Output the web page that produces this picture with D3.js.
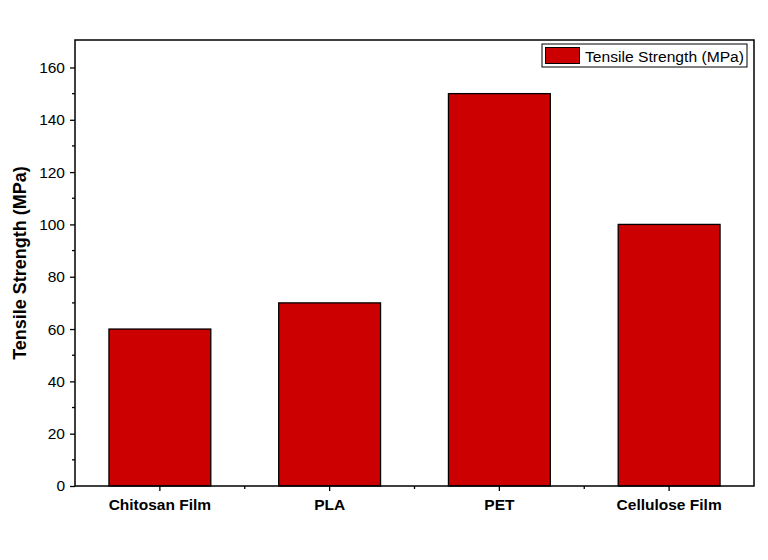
<!DOCTYPE html>
<html>
<head>
<meta charset="utf-8">
<script src="https://cdn.jsdelivr.net/npm/d3@7"></script>
<style>
  body { margin: 0; background: #fff; }
  text { font-family: "Liberation Sans", Arial, sans-serif; }
</style>
</head>
<body>
<svg id="chart" width="768" height="560"></svg>
<script>
// chart data
const materials = ["Chitosan Film", "PLA", "PET", "Cellulose Film"];
const strength = [60, 70, 150, 100];
const yTicks = [0, 20, 40, 60, 80, 100, 120, 140, 160];
const seriesName = "Tensile Strength (MPa)";

const svg = d3.select('#chart');
const plotL = 75, plotR = 754, plotT = 40, plotB = 486;

const x = d3.scaleBand().domain(materials).range([plotL, plotR]).paddingInner(0).paddingOuter(0);
const y = d3.scaleLinear().domain([0, 170.5]).range([plotB, plotT]);
const barW = x.bandwidth() * 0.6;

// bars
svg.append('g').selectAll('rect')
    .data(materials)
    .enter()
    .append('rect')
    .attr('x', d => x(d) + (x.bandwidth() - barW) / 2)
    .attr('y', (d, i) => y(strength[i]))
    .attr('width', barW)
    .attr('height', (d, i) => y(0) - y(strength[i]))
    .attr('fill', '#cc0000')
    .attr('stroke', '#000')
    .attr('stroke-width', 1.3);

// frame
svg.append('rect')
    .attr('x', plotL).attr('y', plotT)
    .attr('width', plotR - plotL).attr('height', plotB - plotT)
    .attr('fill', 'none').attr('stroke', '#000').attr('stroke-width', 1.5);

// y axis
const yAxis = svg.append('g')
    .attr('transform', `translate(${plotL},0)`)
    .call(d3.axisLeft(y).tickValues(yTicks).tickSize(5).tickPadding(5));
yAxis.select('.domain').remove();
yAxis.selectAll('line').attr('stroke-width', 1.3);
yAxis.selectAll('text').attr('font-size', 15.5).attr('fill', '#000')
    .style('font-family', '"Liberation Sans", Arial, sans-serif');

// y minor ticks
svg.append('g').selectAll('line')
    .data(d3.range(10, 170, 20))
    .enter().append('line')
    .attr('x1', plotL - 3).attr('x2', plotL)
    .attr('y1', d => y(d)).attr('y2', d => y(d))
    .attr('stroke', '#000').attr('stroke-width', 1.3);

// x axis
const xAxis = svg.append('g')
    .attr('transform', `translate(0,${plotB})`)
    .call(d3.axisBottom(x).tickSize(5).tickPadding(8));
xAxis.select('.domain').remove();
xAxis.selectAll('line').attr('stroke-width', 1.3);
xAxis.selectAll('text').attr('font-size', 15.5).attr('font-weight', 'bold').attr('fill', '#000')
    .style('font-family', '"Liberation Sans", Arial, sans-serif');

// x minor ticks at band boundaries
svg.append('g').selectAll('line')
    .data(materials.slice(1))
    .enter().append('line')
    .attr('x1', d => x(d)).attr('x2', d => x(d))
    .attr('y1', plotB).attr('y2', plotB + 3)
    .attr('stroke', '#000').attr('stroke-width', 1.3);

// y title
svg.append('text')
    .attr('transform', `translate(26,${(plotT + plotB) / 2}) rotate(-90)`)
    .attr('text-anchor', 'middle')
    .attr('font-size', 18)
    .attr('font-weight', 'bold')
    .text('Tensile Strength (MPa)');

// legend
const lg = svg.append('g');
lg.append('rect')
    .attr('x', 542).attr('y', 44).attr('width', 205).attr('height', 23)
    .attr('fill', '#fff').attr('stroke', '#000').attr('stroke-width', 1);
lg.append('rect')
    .attr('x', 545.5).attr('y', 47.5).attr('width', 34).attr('height', 16)
    .attr('fill', '#cc0000').attr('stroke', '#000').attr('stroke-width', 1);
lg.append('text')
    .attr('x', 585).attr('y', 61.5)
    .attr('font-size', 15.5)
    .attr('textLength', 159)
    .attr('lengthAdjust', 'spacingAndGlyphs')
    .text(seriesName);
</script>
</body>
</html>
